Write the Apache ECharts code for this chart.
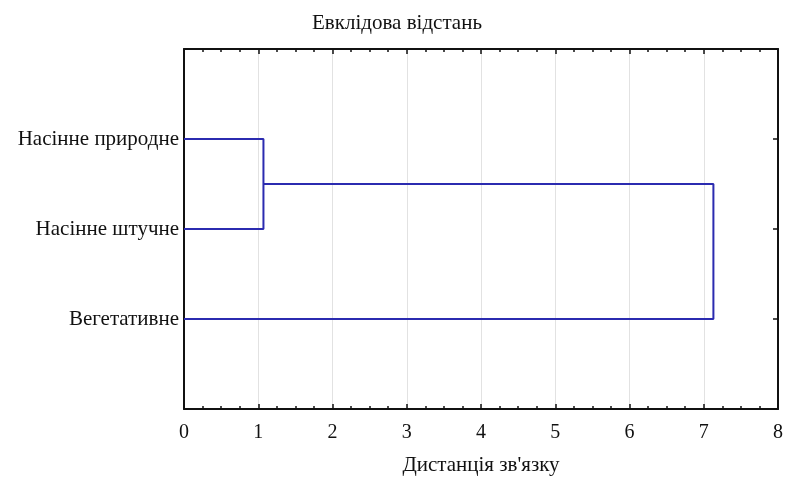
<!DOCTYPE html>
<html><head><meta charset="utf-8">
<script src="https://cdn.jsdelivr.net/npm/echarts@6/dist/echarts.min.js"></script>
<style>html,body{margin:0;padding:0;background:#fff}#c{width:786px;height:481px}</style>
</head><body><div id="c"></div>
<script>
const leaves = ['Насінне природне', 'Насінне штучне', 'Вегетативне'];
const leafPos = [1, 2, 3];
const mergeHeights = [1.07, 7.13];
const xTicks = [0, 1, 2, 3, 4, 5, 6, 7, 8];
const title = 'Евклідова відстань';
const xName = "Дистанція зв'язку";

const font = '"Liberation Serif","Times New Roman",serif';
const lineColor = '#2b2bb0';
const ax = '#111';

const c1 = [[0, leafPos[0]], [mergeHeights[0], leafPos[0]], [mergeHeights[0], leafPos[1]], [0, leafPos[1]]];
const mid1 = (leafPos[0] + leafPos[1]) / 2;
const c2 = [[mergeHeights[0], mid1], [mergeHeights[1], mid1], [mergeHeights[1], leafPos[2]], [0, leafPos[2]]];

const chart = echarts.init(document.getElementById('c'));
const yCommon = {
  type: 'value', min: 0, max: 4, interval: 1, inverse: true,
  axisLine: { show: true, onZero: false, lineStyle: { color: ax, width: 2 } },
  axisTick: { show: true, inside: true, length: 5, lineStyle: { color: ax, width: 1.5 } },
  splitLine: { show: false }
};
const xCommon = {
  type: 'value', min: 0, max: 8, interval: 1,
  axisLine: { show: true, onZero: false, lineStyle: { color: ax, width: 2 } },
  axisTick: { show: true, inside: true, length: 5, lineStyle: { color: ax, width: 1.5 } },
  minorTick: { show: true, splitNumber: 4, length: 3, lineStyle: { color: ax, width: 1.5 } }
};
chart.setOption({
  backgroundColor: '#fff',
  animation: false,
  title: { text: title, left: 392, top: 8, textAlign: 'center',
    textStyle: { fontFamily: font, fontSize: 21, fontWeight: 'normal', color: '#111' } },
  grid: { left: 184, right: 5, top: 49, bottom: 68 },
  xAxis: [
    Object.assign({}, xCommon, { position: 'bottom',
      name: xName, nameLocation: 'middle', nameGap: 46,
      nameTextStyle: { fontFamily: font, fontSize: 21, color: '#111' },
      axisLabel: { fontFamily: font, fontSize: 20, color: '#111', margin: 14,
        formatter: v => xTicks.includes(v) ? String(v) : '' },
      splitLine: { show: true, lineStyle: { color: '#e2e2e2', width: 1 } } }),
    Object.assign({}, xCommon, { position: 'top', axisLabel: { show: false }, splitLine: { show: false } })
  ],
  yAxis: [
    Object.assign({}, yCommon, { position: 'left',
      axisLabel: { fontFamily: font, fontSize: 21, color: '#111', margin: 5,
        formatter: v => { const i = leafPos.indexOf(v); return i >= 0 ? leaves[i] : ''; } } }),
    Object.assign({}, yCommon, { position: 'right', axisLabel: { show: false } })
  ],
  series: [
    { type: 'line', data: c1, symbol: 'none', lineStyle: { color: lineColor, width: 2 } },
    { type: 'line', data: c2, symbol: 'none', lineStyle: { color: lineColor, width: 2 } }
  ]
});
</script></body></html>
